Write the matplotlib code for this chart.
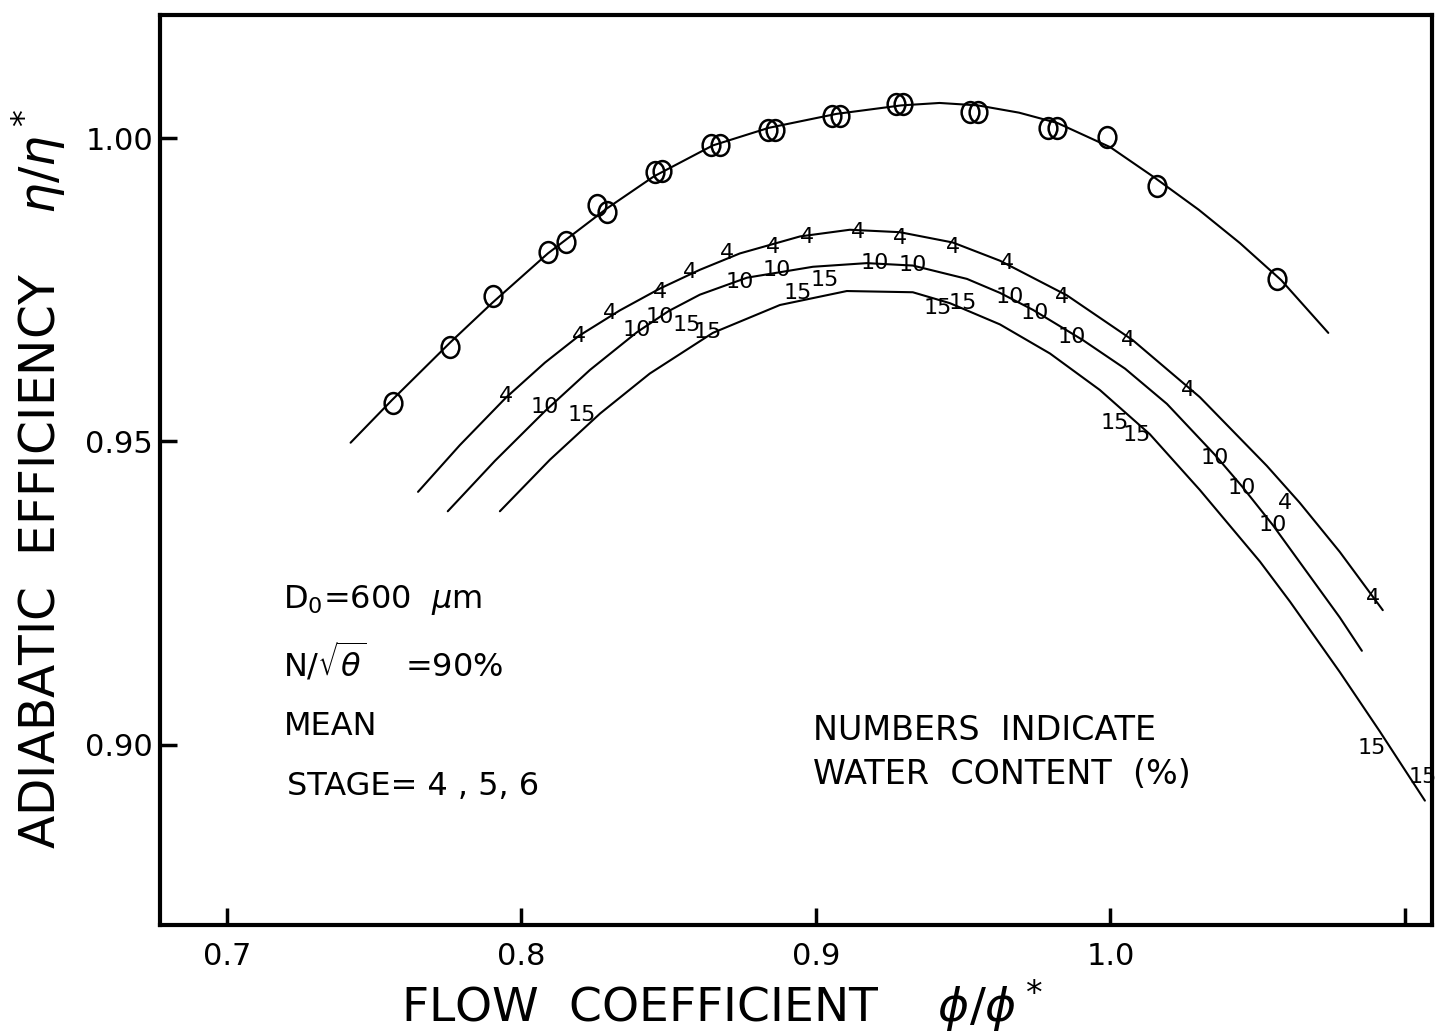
import matplotlib.pyplot as plt
from matplotlib.markers import MarkerStyle
from matplotlib.transforms import Affine2D

# dry runs: measured points (circles) and the faired curve through them
dry_phi = [0.7564, 0.7757, 0.7903, 0.8090, 0.8151, 0.8256, 0.8290, 0.8453, 0.8477,
           0.8643, 0.8674, 0.8837, 0.8861, 0.9054, 0.9082, 0.9272, 0.9295, 0.9523,
           0.9550, 0.9788, 0.9818, 0.9988, 1.0158, 1.0565]
dry_eta = [0.9563, 0.9656, 0.9740, 0.9812, 0.9829, 0.9890, 0.9878, 0.9944, 0.9946,
           0.9988, 0.9988, 1.0013, 1.0013, 1.0036, 1.0036, 1.0056, 1.0056, 1.0043,
           1.0043, 1.0016, 1.0016, 1.0002, 0.9921, 0.9768]
dry_curve_phi = [0.742, 0.756, 0.776, 0.790, 0.809, 0.829, 0.845, 0.865, 0.884, 0.907,
                 0.929, 0.942, 0.955, 0.969, 0.982, 1.000, 1.015, 1.030, 1.044, 1.058, 1.074]
dry_curve_eta = [0.9498, 0.9568, 0.9664, 0.9728, 0.9810, 0.9884, 0.9937, 0.9988, 1.0017,
                 1.0040, 1.0054, 1.0058, 1.0054, 1.0042, 1.0025, 0.9985, 0.9935, 0.9882,
                 0.9827, 0.9766, 0.9679]

# 4 % water
w4_phi = [0.7947, 0.8195, 0.8301, 0.8470, 0.8572, 0.8698, 0.8854, 0.8969, 0.9143,
          0.9285, 0.9465, 0.9649, 0.9835, 1.0059, 1.0263, 1.0593, 1.0891]
w4_eta = [0.9575, 0.9674, 0.9712, 0.9746, 0.9779, 0.9811, 0.9820, 0.9837, 0.9845,
          0.9835, 0.9820, 0.9794, 0.9738, 0.9667, 0.9585, 0.9399, 0.9242]
w4_curve_phi = [0.7649, 0.7791, 0.7947, 0.8080, 0.8195, 0.8334, 0.8470, 0.8606, 0.8742,
                0.8946, 0.9115, 0.9285, 0.9465, 0.9625, 0.9852, 1.0076, 1.0304, 1.0531,
                1.0643, 1.0779, 1.0925]
w4_curve_eta = [0.9417, 0.9494, 0.9572, 0.9630, 0.9674, 0.9716, 0.9752, 0.9783, 0.9810,
                0.9838, 0.9849, 0.9845, 0.9828, 0.9798, 0.9741, 0.9667, 0.9573, 0.9460,
                0.9399, 0.9318, 0.9222]

# 10 % water
w10_phi = [0.8080, 0.8392, 0.8470, 0.8742, 0.8868, 0.9200, 0.9329, 0.9659, 0.9744,
           0.9869, 1.0355, 1.0447, 1.0552]
w10_eta = [0.9557, 0.9684, 0.9705, 0.9763, 0.9783, 0.9794, 0.9791, 0.9738, 0.9712,
           0.9672, 0.9473, 0.9423, 0.9362]
w10_curve_phi = [0.7750, 0.7910, 0.8080, 0.8233, 0.8392, 0.8500, 0.8606, 0.8766, 0.8990,
                 0.9173, 0.9329, 0.9513, 0.9625, 0.9737, 0.9907, 1.0050, 1.0192, 1.0355,
                 1.0447, 1.0552, 1.0667, 1.0779, 1.0854]
w10_curve_eta = [0.9385, 0.9468, 0.9550, 0.9618, 0.9680, 0.9715, 0.9742, 0.9770, 0.9788,
                 0.9794, 0.9790, 0.9768, 0.9745, 0.9717, 0.9667, 0.9620, 0.9562, 0.9478,
                 0.9426, 0.9362, 0.9285, 0.9210, 0.9155]

# 15 % water
w15_phi = [0.8205, 0.8562, 0.8633, 0.8939, 0.9031, 0.9414, 0.9499, 1.0015, 1.0090,
           1.0888, 1.1061]
w15_eta = [0.9544, 0.9692, 0.9680, 0.9745, 0.9766, 0.9720, 0.9728, 0.9530, 0.9511,
           0.8995, 0.8947]
w15_curve_phi = [0.7927, 0.8097, 0.8267, 0.8436, 0.8650, 0.8878, 0.9105, 0.9329, 0.9455,
                 0.9625, 0.9795, 0.9964, 1.0134, 1.0304, 1.0508, 1.0610, 1.0779, 1.0915,
                 1.1068]
w15_curve_eta = [0.9385, 0.9470, 0.9546, 0.9612, 0.9679, 0.9725, 0.9748, 0.9746, 0.9728,
                 0.9693, 0.9645, 0.9585, 0.9512, 0.9420, 0.9302, 0.9236, 0.9120, 0.9022,
                 0.8908]

x_ticks = [0.7, 0.8, 0.9, 1.0, 1.1]
x_ticklabels = ['0.7', '0.8', '0.9', '1.0', '']
y_ticks = [0.90, 0.95, 1.00]
y_ticklabels = ['0.90', '0.95', '1.00']

fig, ax = plt.subplots(figsize=(14.38, 10.34), dpi=100)
fig.subplots_adjust(left=0.1113, right=0.9958, bottom=0.1054, top=0.9855)

# faired curves
for cx, cy in [(dry_curve_phi, dry_curve_eta), (w4_curve_phi, w4_curve_eta),
               (w10_curve_phi, w10_curve_eta), (w15_curve_phi, w15_curve_eta)]:
    ax.plot(cx, cy, color='black', lw=1.5, solid_capstyle='round', solid_joinstyle='round')

# dry points as slightly tall open circles
circ = MarkerStyle('o', fillstyle='none', transform=Affine2D().scale(0.85, 1.0))
ax.plot(dry_phi, dry_eta, linestyle='none', marker=circ, markersize=15,
        markeredgewidth=1.8, color='black')

# wet points are written as their water content
for lab, px, py in [('4', w4_phi, w4_eta), ('10', w10_phi, w10_eta), ('15', w15_phi, w15_eta)]:
    for x, y in zip(px, py):
        ax.text(x, y, lab, ha='center', va='center', fontsize=16)

ax.set_xlim(0.6773, 1.1092)
ax.set_ylim(0.8703, 1.0203)
ax.set_xticks(x_ticks)
ax.set_xticklabels(x_ticklabels)
ax.set_yticks(y_ticks)
ax.set_yticklabels(y_ticklabels)
ax.tick_params(direction='in', length=12, width=2.5, labelsize=22)
ax.tick_params(axis='x', pad=12)
ax.tick_params(axis='y', pad=5)
for s in ax.spines.values():
    s.set_linewidth(3)

ax.set_xlabel(r'FLOW  COEFFICIENT    $\phi/\phi^*$', fontsize=34)
ax.xaxis.set_label_coords(0.442, -0.058)
ax.set_ylabel(r'ADIABATIC  EFFICIENCY    $\eta/\eta^*$', fontsize=35)
ax.yaxis.set_label_coords(-0.072, 0.49)

ax.text(0.097, 0.357, r'D$_0$=600  $\mu$m', transform=ax.transAxes, fontsize=23, va='center')
ax.text(0.097, 0.289, r'N/$\sqrt{\theta}$    =90%', transform=ax.transAxes, fontsize=23, va='center')
ax.text(0.097, 0.218, 'MEAN', transform=ax.transAxes, fontsize=23, va='center')
ax.text(0.100, 0.152, 'STAGE= 4 , 5, 6', transform=ax.transAxes, fontsize=23, va='center')
ax.text(0.513, 0.214, 'NUMBERS  INDICATE', transform=ax.transAxes, fontsize=24, va='center')
ax.text(0.513, 0.165, 'WATER  CONTENT  (%)', transform=ax.transAxes, fontsize=24, va='center')

fig.savefig('out.png', dpi=100)
